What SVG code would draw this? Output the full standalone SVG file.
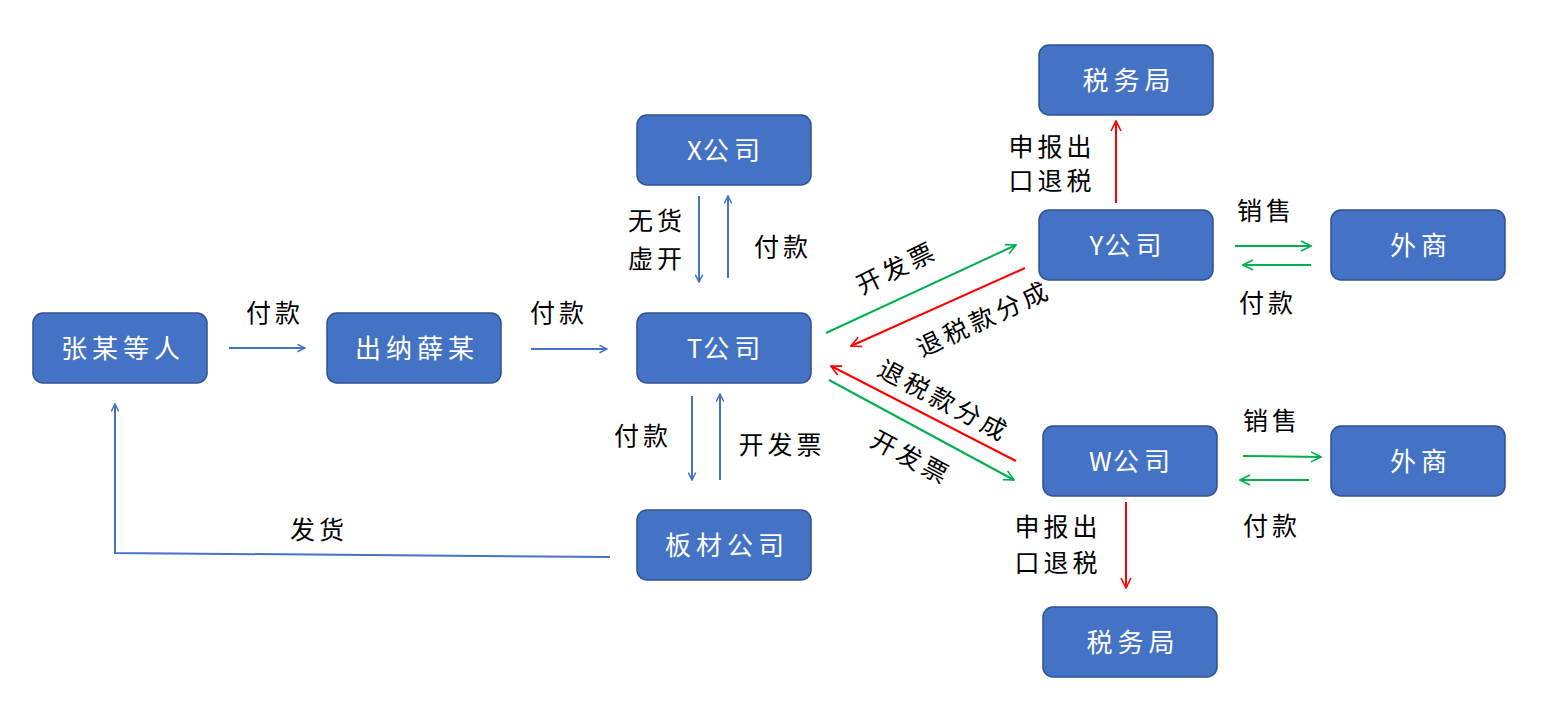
<svg xmlns="http://www.w3.org/2000/svg" width="1548" height="715" viewBox="0 0 1548 715">
<style>
.n rect{fill:#4472C4;stroke:#2F528F;stroke-width:1.5}
.n text{fill:#fff;font-family:"Noto Sans CJK SC",sans-serif;font-size:26px;text-anchor:middle;dominant-baseline:central;letter-spacing:5px}
.n tspan.t{letter-spacing:1px}
.l{fill:#000;font-family:"Noto Sans CJK SC",sans-serif;font-size:25px;text-anchor:middle;dominant-baseline:central;letter-spacing:4px}
.b{stroke:#4472C4;stroke-width:2;fill:none;marker-end:url(#ab)}
.g{stroke:#00B050;stroke-width:2;fill:none;marker-end:url(#ag)}
.r{stroke:#FF0000;stroke-width:2;fill:none;marker-end:url(#ar)}
</style>
<defs>
<marker id="ab" viewBox="0 0 12 12" refX="11" refY="6" markerWidth="9" markerHeight="9" markerUnits="userSpaceOnUse" orient="auto"><path d="M1,1 L11,6 L1,11" fill="none" stroke="#4472C4" stroke-width="2"/></marker>
<marker id="ag" viewBox="0 0 12 12" refX="11" refY="6" markerWidth="12" markerHeight="12" markerUnits="userSpaceOnUse" orient="auto"><path d="M1,1 L11,6 L1,11" fill="none" stroke="#00B050" stroke-width="1.6"/></marker>
<marker id="ar" viewBox="0 0 12 12" refX="11" refY="6" markerWidth="12" markerHeight="12" markerUnits="userSpaceOnUse" orient="auto"><path d="M1,1 L11,6 L1,11" fill="none" stroke="#FF0000" stroke-width="1.6"/></marker>
</defs>
<g id="connectors">
<line class="b" x1="229" y1="348" x2="305" y2="348"/>
<line class="b" x1="531" y1="349" x2="607" y2="349"/>
<line class="b" x1="699" y1="196" x2="699" y2="282"/>
<line class="b" x1="728" y1="278" x2="728" y2="196"/>
<line class="b" x1="692" y1="396" x2="692" y2="480"/>
<line class="b" x1="720" y1="480" x2="720" y2="394"/>
<polyline class="b" points="610,557 115,553 115,404"/>
<line class="g" x1="826" y1="333" x2="1016" y2="245"/>
<line class="r" x1="1025" y1="268" x2="851" y2="346"/>
<line class="r" x1="1016" y1="461" x2="831" y2="366"/>
<line class="g" x1="829" y1="380" x2="1014" y2="480"/>
<line class="r" x1="1116" y1="203" x2="1116" y2="121"/>
<line class="r" x1="1126" y1="502" x2="1126" y2="588"/>
<line class="g" x1="1235" y1="246" x2="1311" y2="246"/>
<line class="g" x1="1311" y1="265" x2="1243" y2="265"/>
<line class="g" x1="1243" y1="456" x2="1321" y2="457"/>
<line class="g" x1="1309" y1="480" x2="1240" y2="480"/>
</g>
<g id="labels">
<text class="l" x="275" y="311">付款</text>
<text class="l" x="559" y="311">付款</text>
<text class="l" x="657" y="219">无货</text>
<text class="l" x="657" y="257">虚开</text>
<text class="l" x="783" y="245">付款</text>
<text class="l" x="643" y="434">付款</text>
<text class="l" x="782" y="443">开发票</text>
<text class="l" x="319" y="528">发货</text>
<text class="l" transform="translate(896,266) rotate(-26)">开发票</text>
<text class="l" transform="translate(983,317) rotate(-25)">退税款分成</text>
<text class="l" transform="translate(945,399) rotate(28)">退税款分成</text>
<text class="l" transform="translate(912,456) rotate(28)">开发票</text>
<text class="l" x="1052" y="145">申报出</text>
<text class="l" x="1052" y="179">口退税</text>
<text class="l" x="1266" y="209">销售</text>
<text class="l" x="1268" y="301">付款</text>
<text class="l" x="1272" y="419">销售</text>
<text class="l" x="1272" y="524">付款</text>
<text class="l" x="1058" y="525">申报出</text>
<text class="l" x="1058" y="561">口退税</text>
</g>
<g id="n-zhang" class="n"><rect x="33" y="313" width="174" height="70" rx="10"/><text x="123" y="346">张某等人</text></g>
<g id="n-xue" class="n"><rect x="327" y="313" width="174" height="70" rx="10"/><text x="417" y="346">出纳薛某</text></g>
<g id="n-t" class="n"><rect x="637" y="313" width="174" height="70" rx="10"/><text x="726" y="346"><tspan class="t">T</tspan>公司</text></g>
<g id="n-x" class="n"><rect x="637" y="115" width="174" height="70" rx="10"/><text x="726" y="148"><tspan class="t">X</tspan>公司</text></g>
<g id="n-bancai" class="n"><rect x="637" y="510" width="174" height="70" rx="10"/><text x="727" y="543">板材公司</text></g>
<g id="n-tax1" class="n"><rect x="1039" y="45" width="174" height="70" rx="10"/><text x="1129" y="78">税务局</text></g>
<g id="n-y" class="n"><rect x="1039" y="210" width="174" height="70" rx="10"/><text x="1128" y="243"><tspan class="t">Y</tspan>公司</text></g>
<g id="n-ws1" class="n"><rect x="1331" y="210" width="174" height="70" rx="10"/><text x="1421" y="243">外商</text></g>
<g id="n-w" class="n"><rect x="1043" y="426" width="174" height="70" rx="10"/><text x="1132" y="459"><tspan class="t">W</tspan>公司</text></g>
<g id="n-ws2" class="n"><rect x="1331" y="426" width="174" height="70" rx="10"/><text x="1421" y="459">外商</text></g>
<g id="n-tax2" class="n"><rect x="1043" y="607" width="174" height="70" rx="10"/><text x="1133" y="640">税务局</text></g>
</svg>
